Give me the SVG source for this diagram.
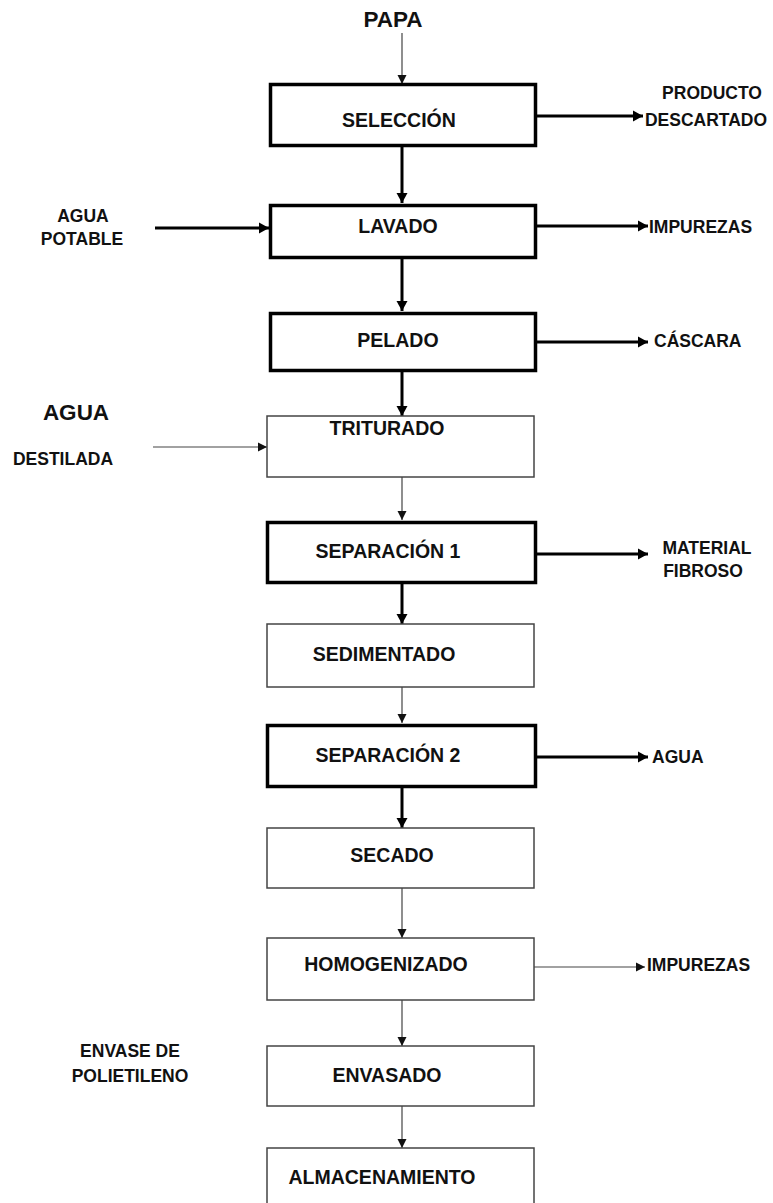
<svg xmlns="http://www.w3.org/2000/svg" width="773" height="1203" viewBox="0 0 773 1203">
<style>
  text { font-family: "Liberation Sans", Arial, sans-serif; font-weight: bold; fill: #111; }
  .n { font-size: 19.5px; text-anchor: middle; }
  .s { font-size: 17.5px; }
  .m { text-anchor: middle; }
  .big { font-size: 22.5px; text-anchor: middle; }
  .bt { fill: #fff; stroke: #000; stroke-width: 3.5; }
  .bn { fill: #fff; stroke: #444; stroke-width: 1.5; }
  .ct { fill: none; stroke: #000; stroke-width: 3; }
  .cn { fill: none; stroke: #444; stroke-width: 1.2; }
</style>
<defs>
  <marker id="ah" markerUnits="userSpaceOnUse" markerWidth="12" markerHeight="12" refX="10" refY="6" orient="auto">
    <path d="M0,0.5 L10,6 L0,11.5 Z" fill="#000"/>
  </marker>
  <marker id="ahs" markerUnits="userSpaceOnUse" markerWidth="10" markerHeight="10" refX="9" refY="5" orient="auto">
    <path d="M0,0.5 L9,5 L0,9.5 Z" fill="#111"/>
  </marker>
</defs>
<rect width="773" height="1203" fill="#fff"/>

<g id="connectors">
  <line class="cn" x1="402" y1="33" x2="402" y2="84" marker-end="url(#ahs)"/>
  <line class="ct" x1="537" y1="116" x2="643" y2="116" marker-end="url(#ah)"/>
  <line class="ct" x1="402" y1="146" x2="402" y2="203" marker-end="url(#ah)"/>
  <line class="ct" x1="155" y1="228" x2="269" y2="228" marker-end="url(#ah)"/>
  <line class="ct" x1="537" y1="226" x2="648" y2="226" marker-end="url(#ah)"/>
  <line class="ct" x1="402" y1="259" x2="402" y2="311" marker-end="url(#ah)"/>
  <line class="ct" x1="537" y1="342" x2="648" y2="342" marker-end="url(#ah)"/>
  <line class="ct" x1="402" y1="372" x2="402" y2="416" marker-end="url(#ah)"/>
  <line class="cn" x1="153" y1="447" x2="267" y2="447" marker-end="url(#ahs)"/>
  <line class="cn" x1="402" y1="477" x2="402" y2="520" marker-end="url(#ahs)"/>
  <line class="ct" x1="537" y1="554" x2="648" y2="554" marker-end="url(#ah)"/>
  <line class="ct" x1="402" y1="584" x2="402" y2="624" marker-end="url(#ah)"/>
  <line class="cn" x1="402" y1="687" x2="402" y2="723" marker-end="url(#ahs)"/>
  <line class="ct" x1="537" y1="757" x2="648" y2="757" marker-end="url(#ah)"/>
  <line class="ct" x1="402" y1="788" x2="402" y2="828" marker-end="url(#ah)"/>
  <line class="cn" x1="402" y1="888" x2="402" y2="938" marker-end="url(#ahs)"/>
  <line class="cn" x1="533" y1="967" x2="645" y2="967" marker-end="url(#ahs)"/>
  <line class="cn" x1="402" y1="1000" x2="402" y2="1046" marker-end="url(#ahs)"/>
  <line class="cn" x1="402" y1="1106" x2="402" y2="1148" marker-end="url(#ahs)"/>
</g>

<g id="papa"><text class="big" x="393" y="27">PAPA</text></g>

<g id="seleccion">
  <rect class="bt" x="270.5" y="84.5" width="265" height="61"/>
  <text class="n" x="399" y="127">SELECCIÓN</text>
</g>
<g id="producto-descartado">
  <text class="s m" x="712" y="99">PRODUCTO</text>
  <text class="s m" x="706" y="126">DESCARTADO</text>
</g>

<g id="lavado">
  <rect class="bt" x="270.5" y="205.5" width="265" height="52"/>
  <text class="n" x="398" y="233">LAVADO</text>
</g>
<g id="agua-potable">
  <text class="s m" x="83" y="222">AGUA</text>
  <text class="s m" x="82" y="245">POTABLE</text>
</g>
<g id="impurezas-1"><text class="s" x="649" y="233">IMPUREZAS</text></g>

<g id="pelado">
  <rect class="bt" x="270.5" y="313.5" width="265" height="57"/>
  <text class="n" x="398" y="347">PELADO</text>
</g>
<g id="cascara"><text class="s" x="654" y="347">CÁSCARA</text></g>

<g id="triturado">
  <rect class="bn" x="267" y="416" width="267" height="61"/>
  <text class="n" x="387" y="435">TRITURADO</text>
</g>
<g id="agua-destilada">
  <text class="big" x="76" y="420">AGUA</text>
  <text class="s m" x="63" y="465">DESTILADA</text>
</g>

<g id="separacion-1">
  <rect class="bt" x="267.5" y="522.5" width="268" height="60"/>
  <text class="n" x="388" y="558">SEPARACIÓN 1</text>
</g>
<g id="material-fibroso">
  <text class="s m" x="707" y="554">MATERIAL</text>
  <text class="s m" x="703" y="577">FIBROSO</text>
</g>

<g id="sedimentado">
  <rect class="bn" x="267" y="624" width="267" height="63"/>
  <text class="n" x="384" y="661">SEDIMENTADO</text>
</g>

<g id="separacion-2">
  <rect class="bt" x="267.5" y="725.5" width="268" height="61"/>
  <text class="n" x="388" y="762">SEPARACIÓN 2</text>
</g>
<g id="agua-2"><text class="s" x="652" y="763">AGUA</text></g>

<g id="secado">
  <rect class="bn" x="267" y="828" width="267" height="60"/>
  <text class="n" x="392" y="862">SECADO</text>
</g>

<g id="homogenizado">
  <rect class="bn" x="267" y="938" width="267" height="62"/>
  <text class="n" x="386" y="971">HOMOGENIZADO</text>
</g>
<g id="impurezas-2"><text class="s" x="647" y="971">IMPUREZAS</text></g>

<g id="envasado">
  <rect class="bn" x="267" y="1046" width="267" height="60"/>
  <text class="n" x="387" y="1082">ENVASADO</text>
</g>
<g id="envase-polietileno">
  <text class="s m" x="130" y="1057">ENVASE DE</text>
  <text class="s m" x="130" y="1082">POLIETILENO</text>
</g>

<g id="almacenamiento">
  <rect class="bn" x="267" y="1148" width="267" height="70"/>
  <text class="n" x="382" y="1184">ALMACENAMIENTO</text>
</g>
</svg>
